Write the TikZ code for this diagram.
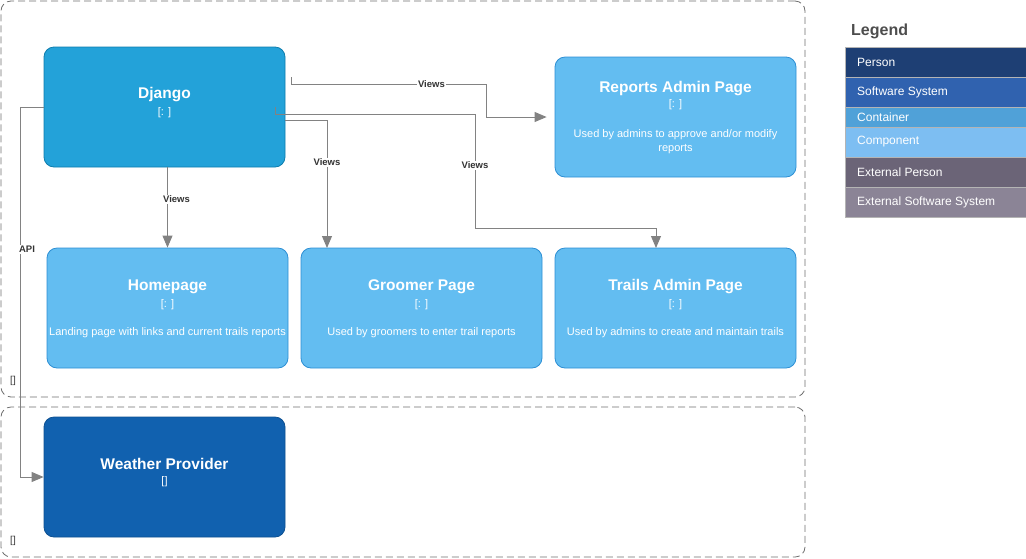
\documentclass[tikz,border=0pt]{standalone}
\usepackage{fontspec}
\setmainfont{Liberation Sans}
\usetikzlibrary{arrows.meta,calc}
\definecolor{djfill}{HTML}{23A2D9}
\definecolor{djline}{HTML}{0E7DAD}
\definecolor{cpfill}{HTML}{63BDF1}
\definecolor{cpline}{HTML}{2D8FD4}
\definecolor{wpfill}{HTML}{1161AF}
\definecolor{wpline}{HTML}{0D5091}
\definecolor{conncol}{HTML}{828282}
\definecolor{bndcol}{HTML}{6E6E6E}
\definecolor{lgperson}{HTML}{1E3F74}
\definecolor{lgsys}{HTML}{3062AF}
\definecolor{lgcont}{HTML}{50A1D8}
\definecolor{lgcomp}{HTML}{7DBEF2}
\definecolor{lgextp}{HTML}{6B6477}
\definecolor{lgexts}{HTML}{8B8496}
\definecolor{lgborder}{HTML}{B4B4B4}
\definecolor{lgtitle}{HTML}{4D4D4D}
\tikzset{
  box/.style={draw, rounded corners=10pt, minimum width=241pt, minimum height=120pt, line width=0.8pt, inner sep=0pt},
  djbox/.style={box, fill=djfill, draw=djline},
  cpbox/.style={box, fill=cpfill, draw=cpline},
  wpbox/.style={box, fill=wpfill, draw=wpline},
  bound/.style={draw=bndcol, dash pattern=on 7pt off 4pt, rounded corners=10pt, line width=0.8pt, inner sep=0pt},
  ttl/.style={text=white, font=\bfseries\fontsize{15.5}{18}\selectfont, inner sep=0pt},
  tech/.style={text=white, font=\fontsize{11}{13}\selectfont, inner sep=0pt},
  desc/.style={text=white, font=\fontsize{11}{14}\selectfont, inner sep=0pt, align=center},
  conn/.style={draw=conncol, line width=0.9pt, -{Triangle[length=12pt,width=10pt]}},
  lbl/.style={fill=white, text=black!80, font=\bfseries\fontsize{9.5}{11}\selectfont, inner sep=1pt},
  brk/.style={text=black!80, font=\fontsize{10}{12}\selectfont, inner sep=0pt},
  lgrow/.style={draw=lgborder, line width=0.6pt, minimum width=181pt, text=white, font=\fontsize{12}{14}\selectfont, inner sep=0pt, anchor=north west},
  lgtext/.style={text=white, font=\fontsize{12}{14}\selectfont, inner sep=0pt, anchor=west}
}
\begin{document}
\begin{tikzpicture}[x=1pt,y=-1pt]
\useasboundingbox (0,0) rectangle (1026,558);
% boundaries
\node[bound, minimum width=804pt, minimum height=396pt] (b1) at (403,199) {};
\node[bound, minimum width=804pt, minimum height=150pt] (b2) at (403,482) {};
\node[brk] (b1lbl) at (13,381) {[]};
\node[brk] (b2lbl) at (13,541) {[]};
% boxes
\node[djbox] (django) at (164.5,107) {};
\node[ttl] (djt) at (164.5,95) {Django};
\node[tech] (djk) at (164.5,112.5) {[: ]};

\node[cpbox] (reports) at (675.5,117) {};
\node[ttl] (rpt) at (675.5,89) {Reports Admin Page};
\node[tech] (rpk) at (675.5,105) {[: ]};
\node[desc] (rpd) at (675.5,142) {Used by admins to approve and/or modify\\reports};

\node[cpbox] (home) at (167.5,308) {};
\node[ttl] (hmt) at (167.5,287) {Homepage};
\node[tech] (hmk) at (167.5,305) {[: ]};
\node[desc] (hmd) at (167.5,333) {Landing page with links and current trails reports};

\node[cpbox] (groomer) at (421.5,308) {};
\node[ttl] (grt) at (421.5,287) {Groomer Page};
\node[tech] (grk) at (421.5,305) {[: ]};
\node[desc] (grd) at (421.5,333) {Used by groomers to enter trail reports};

\node[cpbox] (trails) at (675.5,308) {};
\node[ttl] (trt) at (675.5,287) {Trails Admin Page};
\node[tech] (trk) at (675.5,305) {[: ]};
\node[desc] (trd) at (675.5,333) {Used by admins to create and maintain trails};

\node[wpbox] (weather) at (164.5,477) {};
\node[ttl] (wpt) at (164.5,464) {Weather Provider};
\node[tech] (wpk) at (164.5,481.5) {[]};

% connectors
\coordinate (s1) at (291,77);
\coordinate (s2) at (285,120);
\coordinate (e2) at (327,248);
\coordinate (s3) at (275,107);
\coordinate (e3) at (656,248);
\draw[conn, shorten >=8pt] (s1) -- (291,84) -- node[lbl, pos=0.72] {Views} (486,84) |- (reports.west);
\draw[conn] (s2) -- (327,120) -- node[lbl, pos=0.33] {Views} (e2);
\draw[conn] (s3) -- (275,114) -- (475,114) -- node[lbl, pos=0.45] {Views} (475,228) -| (e3);
\draw[conn] (django.south -| home.north) -- node[lbl, pos=0.4, xshift=9pt] {Views} (home.north);
\draw[conn] (django.west) -- (20,107) -- node[lbl, pos=0.385, xshift=7pt] {API} (20,477) -- (weather.west);

% legend
\node[text=lgtitle, font=\bfseries\fontsize{16}{18}\selectfont, inner sep=0pt, anchor=west] (lgt) at (851,31) {Legend};
\node[lgrow, fill=lgperson, minimum height=30pt] (r1) at (845,47) {};
\node[lgrow, fill=lgsys, minimum height=30pt] (r2) at (845,77) {};
\node[lgrow, fill=lgcont, minimum height=20pt] (r3) at (845,107) {};
\node[lgrow, fill=lgcomp, minimum height=30pt] (r4) at (845,127) {};
\node[lgrow, fill=lgextp, minimum height=30pt] (r5) at (845,157) {};
\node[lgrow, fill=lgexts, minimum height=30pt] (r6) at (845,187) {};
\node[lgtext] (t1) at (857,62) {Person};
\node[lgtext] (t2) at (857,92) {Software System};
\node[lgtext] (t3) at (857,117) {Container};
\node[lgtext] (t4) at (857,142) {Component};
\node[lgtext] (t5) at (857,172) {External Person};
\node[lgtext] (t6) at (857,202) {External Software System};
\end{tikzpicture}
\end{document}
